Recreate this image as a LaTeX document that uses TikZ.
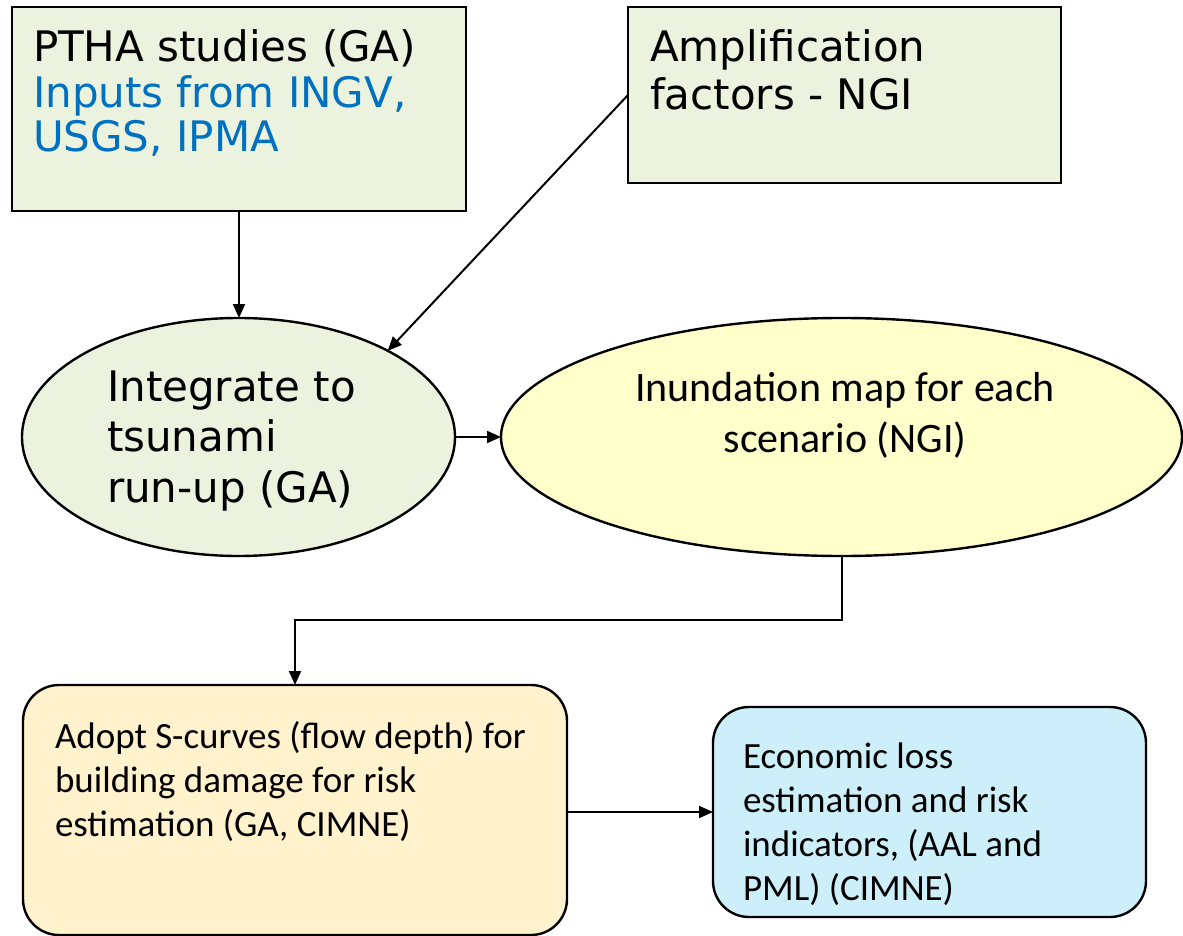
\documentclass[tikz,border=0pt]{standalone}
\usepackage{fontspec}
\usetikzlibrary{shapes.geometric,arrows.meta}
\newfontfamily\verd{DejaVu Sans}
\newfontfamily\cali{Carlito}
\definecolor{gfill}{HTML}{EBF3DF}
\definecolor{yfill}{HTML}{FFFFCC}
\definecolor{ofill}{HTML}{FFF2CC}
\definecolor{cfill}{HTML}{CCEFF9}
\definecolor{blu}{HTML}{0070C0}
\begin{document}
\begin{tikzpicture}[x=1pt,y=-1pt,
  box/.style={draw=black,line width=2.4pt,inner sep=0pt,outer sep=0pt},
  oval/.style={box,ellipse},
  conn/.style={line width=2pt,-{Triangle[length=14pt,width=12pt]}},
  txt/.style={inner sep=0pt,outer sep=0pt,anchor=base west},
  ctxt/.style={inner sep=0pt,outer sep=0pt,anchor=base}]
\useasboundingbox (0,0) rectangle (1183,936);
% shapes
\node[box,fill=gfill,minimum width=454pt,minimum height=204pt] (ptha) at (239,109) {};
\node[box,fill=gfill,minimum width=433pt,minimum height=176pt] (amp) at (844.5,95) {};
\node[oval,fill=gfill,minimum width=433pt,minimum height=238pt] (e1) at (238.5,437) {};
\node[oval,fill=yfill,minimum width=681pt,minimum height=238pt] (e2) at (841.5,437) {};
\node[box,fill=ofill,rounded corners=36pt,minimum width=544pt,minimum height=250pt] (s3) at (295,810) {};
\node[box,fill=cfill,rounded corners=36pt,minimum width=433pt,minimum height=210pt] (s4) at (929.5,812) {};
% texts
\node[txt] (t1) at (33,62) {\verd\fontsize{42}{44}\selectfont\begin{tabular}[t]{@{}l@{}}PTHA studies (GA)\\\color{blu}Inputs from INGV,\\\color{blu}USGS, IPMA\end{tabular}};
\node[txt] (t2) at (650,62) {\verd\fontsize{42}{48}\selectfont\begin{tabular}[t]{@{}l@{}}Amplification\\factors - NGI\end{tabular}};
\node[txt] (t3) at (107,401) {\verd\fontsize{42}{50.5}\selectfont\begin{tabular}[t]{@{}l@{}}Integrate to\\tsunami\\run-up (GA)\end{tabular}};
\node[ctxt] (t4) at (845,401) {\cali\fontsize{42}{51}\selectfont\begin{tabular}[t]{@{}c@{}}Inundation map for each\\scenario (NGI)\end{tabular}};
\node[txt] (t5) at (55,748) {\cali\fontsize{37}{44}\selectfont\begin{tabular}[t]{@{}l@{}}Adopt S-curves (flow depth) for\\building damage for risk\\estimation (GA, CIMNE)\end{tabular}};
\node[txt] (t6) at (743,768) {\cali\fontsize{37}{44}\selectfont\begin{tabular}[t]{@{}l@{}}Economic loss\\estimation and risk\\indicators, (AAL and\\PML) (CIMNE)\end{tabular}};
% connectors
\draw[conn] (ptha.south) -- (ptha.south |- e1.north);
\draw[conn] (amp.west) -- (e1.30);
\draw[conn] (e1.east) -- (e2.west);
\draw[conn] (e2.south) -- ++(0,64) -| (s3.north);
\draw[conn] (s3.east |- s4.west) -- (s4.west);
\end{tikzpicture}
\end{document}
